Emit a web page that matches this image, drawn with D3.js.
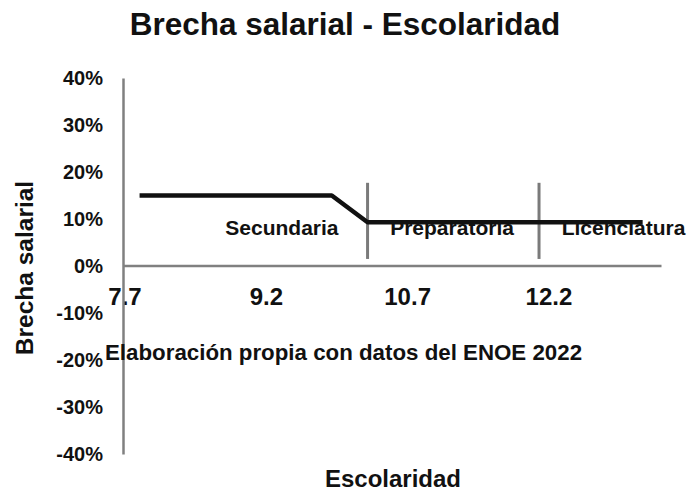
<!DOCTYPE html>
<html lang="es">
<head>
<meta charset="UTF-8">
<title>Brecha salarial - Escolaridad</title>
<style>
body { margin: 0; background: #fff; }
svg { font-family: "Liberation Sans", Arial, sans-serif; }
.axis .domain { stroke: #808080; stroke-width: 2.5; }
.axis text { fill: #111; font-weight: bold; }
</style>
</head>
<body>
<svg width="688" height="491"></svg>
<script src="https://d3js.org/d3.v7.min.js"></script>
<script>

// years of schooling vs wage gap
var escolaridad = [7.86, 9.9, 10.28, 13.2];
var brecha = [0.15, 0.15, 0.093, 0.093];

// level boundaries (years) and their span on the y axis
var cortes = [10.28, 12.1];
var corteDesde = 0.015, corteHasta = 0.177;

var niveles = ["Secundaria", "Preparatoria", "Licenciatura"];
var nivelX = [8.77, 10.52, 12.34];
var nivelY = 0.067;

var xTicks = [7.7, 9.2, 10.7, 12.2];
var yTicks = [-0.4, -0.3, -0.2, -0.1, 0, 0.1, 0.2, 0.3, 0.4];

var svg = d3.select("svg");

var x = d3.scaleLinear().domain([7.7, 13.4]).range([124.5, 661.5]);
var y = d3.scaleLinear().domain([-0.4, 0.4]).range([454, 78]);

var pct = d3.format(".0%");

// x axis at zero
svg.append("g")
    .attr("class", "axis")
    .attr("transform", "translate(0," + y(0) + ")")
    .call(d3.axisBottom(x).tickValues(xTicks).tickSize(0).tickPadding(22).tickFormat(d3.format(".1f")))
    .call(g => g.selectAll("text").attr("font-size", 24))
    .call(g => g.select(".domain").attr("d", "M" + (x.range()[0] - 1.5) + ",0H" + x.range()[1]));

// y axis
svg.append("g")
    .attr("class", "axis")
    .attr("transform", "translate(" + (x.range()[0] - 1.5) + ",0)")
    .call(d3.axisLeft(y).tickValues(yTicks).tickSize(0).tickPadding(20)
      .tickFormat(d => pct(d).replace("\u2212", "-")))
    .call(g => g.selectAll("text").attr("font-size", 20));

// level boundaries
svg.append("g").selectAll("line")
    .data(cortes)
    .join("line")
      .attr("x1", d => x(d)).attr("x2", d => x(d))
      .attr("y1", y(corteDesde)).attr("y2", y(corteHasta))
      .attr("stroke", "#7a7a7a")
      .attr("stroke-width", 3);

// gap line
var puntos = escolaridad.map((d, i) => [d, brecha[i]]);
svg.append("path")
    .datum(puntos)
    .attr("fill", "none")
    .attr("stroke", "#111")
    .attr("stroke-width", 4.5)
    .attr("stroke-linejoin", "round")
    .attr("d", d3.line().x(d => x(d[0])).y(d => y(d[1])));

// level labels
svg.append("g").selectAll("text")
    .data(niveles)
    .join("text")
      .attr("x", (d, i) => x(nivelX[i]))
      .attr("y", y(nivelY))
      .attr("font-size", 21)
      .attr("font-weight", "bold")
      .attr("fill", "#111")
      .text(d => d);

// title
svg.append("text")
    .attr("x", 345)
    .attr("y", 35)
    .attr("text-anchor", "middle")
    .attr("font-size", 31.5)
    .attr("font-weight", "bold")
    .attr("fill", "#111")
    .text("Brecha salarial - Escolaridad");

// note
svg.append("text")
    .attr("x", 105)
    .attr("y", 360)
    .attr("font-size", 22.3)
    .attr("font-weight", "bold")
    .attr("fill", "#111")
    .text("Elaboración propia con datos del ENOE 2022");

// axis titles
svg.append("text")
    .attr("x", 393)
    .attr("y", 487)
    .attr("text-anchor", "middle")
    .attr("font-size", 24)
    .attr("font-weight", "bold")
    .attr("fill", "#111")
    .text("Escolaridad");

svg.append("text")
    .attr("transform", "translate(33,268) rotate(-90)")
    .attr("text-anchor", "middle")
    .attr("font-size", 24.5)
    .attr("font-weight", "bold")
    .attr("fill", "#111")
    .text("Brecha salarial");

</script>
</body>
</html>
